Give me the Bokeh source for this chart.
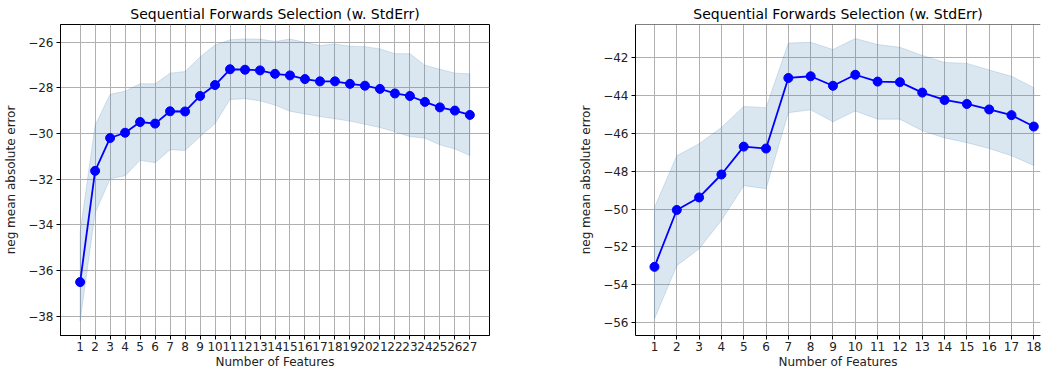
from bokeh.plotting import figure
from bokeh.layouts import row
from bokeh.models import FixedTicker, Span, CustomJSTickFormatter, Range1d
from bokeh.embed import file_html
from bokeh.resources import INLINE

TITLE = "Sequential Forwards Selection (w. StdErr)"
XLABEL = "Number of Features"
YLABEL = "neg mean absolute error"

# ---- left panel data ----
features_a = list(range(1, 28))
mean_a = [-36.50, -31.63, -30.19, -29.96, -29.49, -29.56, -29.02, -29.03, -28.35,
          -27.87, -27.18, -27.20, -27.23, -27.38, -27.45, -27.61, -27.71, -27.71,
          -27.82, -27.90, -28.04, -28.24, -28.35, -28.61, -28.85, -28.99, -29.18]
upper_a = [-34.30, -29.63, -28.28, -28.14, -27.81, -27.82, -27.35, -27.28, -26.64,
           -26.12, -25.89, -25.85, -25.86, -25.96, -25.86, -26.00, -26.14, -26.07,
           -26.17, -26.19, -26.29, -26.50, -26.50, -27.00, -27.18, -27.35, -27.38]
lower_a = [-38.20, -33.48, -31.98, -31.84, -31.17, -31.27, -30.70, -30.74, -30.13,
           -29.56, -28.50, -28.47, -28.56, -28.75, -29.02, -29.14, -29.25, -29.35,
           -29.45, -29.59, -29.73, -29.92, -30.13, -30.20, -30.49, -30.67, -30.96]
yticks_a = [-38, -36, -34, -32, -30, -28, -26]

# ---- right panel data ----
features_b = list(range(1, 19))
mean_b = [-53.05, -50.05, -49.39, -48.18, -46.71, -46.81, -43.09, -43.00, -43.50,
          -42.92, -43.28, -43.31, -43.86, -44.25, -44.46, -44.75, -45.05, -45.65]
upper_b = [-49.92, -47.19, -46.56, -45.70, -44.59, -44.66, -41.25, -41.21, -41.59,
           -41.01, -41.33, -41.47, -41.90, -42.27, -42.32, -42.67, -43.00, -43.60]
lower_b = [-55.80, -52.99, -52.10, -50.60, -48.77, -48.93, -44.92, -44.77, -45.40,
           -44.83, -45.26, -45.26, -45.87, -46.25, -46.50, -46.81, -47.19, -47.70]
yticks_b = [-56, -54, -52, -50, -48, -46, -44, -42]

FONT = "DejaVu Sans"
minus_fmt = "return tick < 0 ? '\\u2212' + Math.abs(tick) : '' + tick;"


def make_panel(xs, mean, upper, lower, yticks, xr, yr, width, bl, br,
               outline=True, title_offset=0):
    p = figure(width=width, height=371, x_range=Range1d(*xr), y_range=Range1d(*yr),
               output_backend="svg", toolbar_location=None,
               min_border_left=bl, min_border_right=br, min_border_top=24,
               min_border_bottom=34, background_fill_color="white",
               border_fill_color="white")
    p.title.text = TITLE
    p.title.align = "center"
    p.title.offset = title_offset
    p.title.text_font = FONT
    p.title.text_font_size = "14px"
    p.title.text_font_style = "normal"
    p.title.text_color = "#000000"
    p.title.standoff = 5

    if outline:
        p.outline_line_color = "black"
        p.outline_line_width = 1
    else:
        p.outline_line_color = None
        p.add_layout(Span(location=yr[1], dimension="width",
                          line_color="black", line_width=1))

    # band
    px = list(xs) + list(xs)[::-1]
    py = list(upper) + list(lower)[::-1]
    p.patch(px, py, fill_color="steelblue", fill_alpha=0.2,
            line_color="steelblue", line_alpha=0.2, line_width=1)
    p.line(xs, mean, line_color="#0000ff", line_width=1.8)
    p.scatter(xs, mean, size=9, fill_color="#0000ff", line_color="#0000ff")

    for ax in (p.xaxis[0], p.yaxis[0]):
        ax.axis_line_color = "black"
        ax.axis_line_width = 1
        ax.major_tick_out = 4
        ax.major_tick_in = 0
        ax.minor_tick_line_color = None
        ax.major_label_text_font = FONT
        ax.major_label_text_font_size = "12px"
        ax.major_label_text_color = "#222222"
        ax.axis_label_text_font = FONT
        ax.axis_label_text_font_size = "12px"
        ax.axis_label_text_font_style = "normal"
        ax.axis_label_text_color = "#222222"
    p.xaxis.major_label_standoff = 2
    p.xaxis.axis_label_standoff = 1
    p.yaxis.major_label_standoff = 3
    p.yaxis.axis_label_standoff = 7

    p.xaxis.ticker = FixedTicker(ticks=list(xs))
    p.yaxis.ticker = FixedTicker(ticks=yticks)
    p.yaxis.formatter = CustomJSTickFormatter(code=minus_fmt)
    p.xaxis.axis_label = XLABEL
    p.yaxis.axis_label = YLABEL

    p.xgrid.ticker = FixedTicker(ticks=list(xs))
    p.ygrid.ticker = FixedTicker(ticks=yticks)
    for g in (p.xgrid[0], p.ygrid[0]):
        g.grid_line_color = "#b0b0b0"
        g.grid_line_width = 1
    return p


p1 = make_panel(features_a, mean_a, upper_a, lower_a, yticks_a,
                (-0.31, 28.31), (-38.84, -25.22), 576, 60, 87)
p2 = make_panel(features_b, mean_b, upper_b, lower_b, yticks_b,
                (0.15, 18.3), (-56.67, -40.27), 468, 52, 4, outline=False,
                title_offset=10)

p = row(p1, p2)
open("out.html", "w").write(file_html(p, INLINE))
